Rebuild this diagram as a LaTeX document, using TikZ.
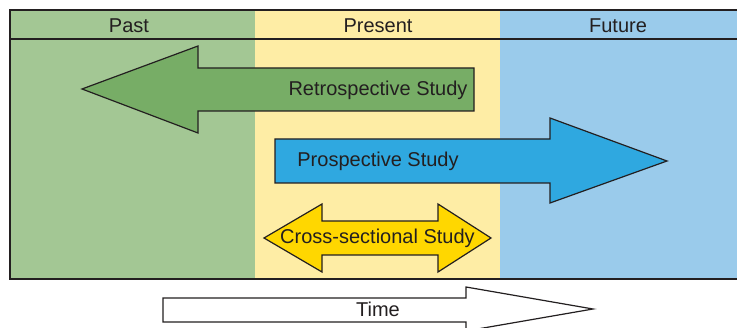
\documentclass[tikz,border=0pt]{standalone}
\usepackage{fontspec}
\setmainfont{Liberation Sans}
\definecolor{pastbg}{HTML}{A3C794}
\definecolor{presbg}{HTML}{FEEDA5}
\definecolor{futbg}{HTML}{9ACBEB}
\definecolor{retro}{HTML}{77AD66}
\definecolor{prosp}{HTML}{2FA8E0}
\definecolor{cross}{HTML}{FFD700}
\definecolor{ink}{HTML}{231F20}
\tikzset{
  arr/.style={draw=ink, line width=1.2pt, line join=miter},
  lbl/.style={anchor=base, text=ink, font=\fontsize{20}{22}\selectfont, inner sep=0pt},
  frameline/.style={draw=ink, line width=2pt}
}
\begin{document}
\begin{tikzpicture}[x=1pt,y=-1pt]
\useasboundingbox (0,0) rectangle (737,328);
\clip (0,0) rectangle (737,328);
\fill[white] (0,0) rectangle (737,328);
% panels
\fill[pastbg] (10,10) rectangle (255,279);
\fill[presbg] (255,10) rectangle (500,279);
\fill[futbg] (500,10) rectangle (745,279);
\draw[frameline] (10,10) rectangle (745,279);
\draw[frameline] (10,39) -- (745,39);
% headers
\node[lbl] (past) at (129,32.7) {Past};
\node[lbl] (present) at (378,32.7) {Present};
\node[lbl] (future) at (618,32.7) {Future};
% retrospective arrow
\draw[arr, fill=retro] (474,68) -- (198,68) -- (198,46) -- (82,89) -- (198,133) -- (198,111) -- (474,111) -- cycle;
\node[lbl] (retrolbl) at (378,95.5) {Retrospective Study};
% prospective arrow
\draw[arr, fill=prosp] (275,139) -- (550,139) -- (550,118) -- (667,161) -- (550,203) -- (550,183) -- (275,183) -- cycle;
\node[lbl] (prosplbl) at (378,167) {Prospective Study};
% cross-sectional arrow
\draw[arr, fill=cross] (322,221) -- (438,221) -- (438,204) -- (491,238) -- (438,272) -- (438,255) -- (322,255) -- (322,272) -- (264,238) -- (322,204) -- cycle;
\node[lbl, font=\fontsize{20}{22}\selectfont] (crosslbl) at (377.5,244) {Cross-sectional Study};
% time arrow
\draw[arr, fill=white] (163,298) -- (466,298) -- (466,287) -- (593,309) -- (466,331) -- (466,322) -- (163,322) -- cycle;
\node[lbl] (timelbl) at (378,316.5) {Time};
\end{tikzpicture}
\end{document}
